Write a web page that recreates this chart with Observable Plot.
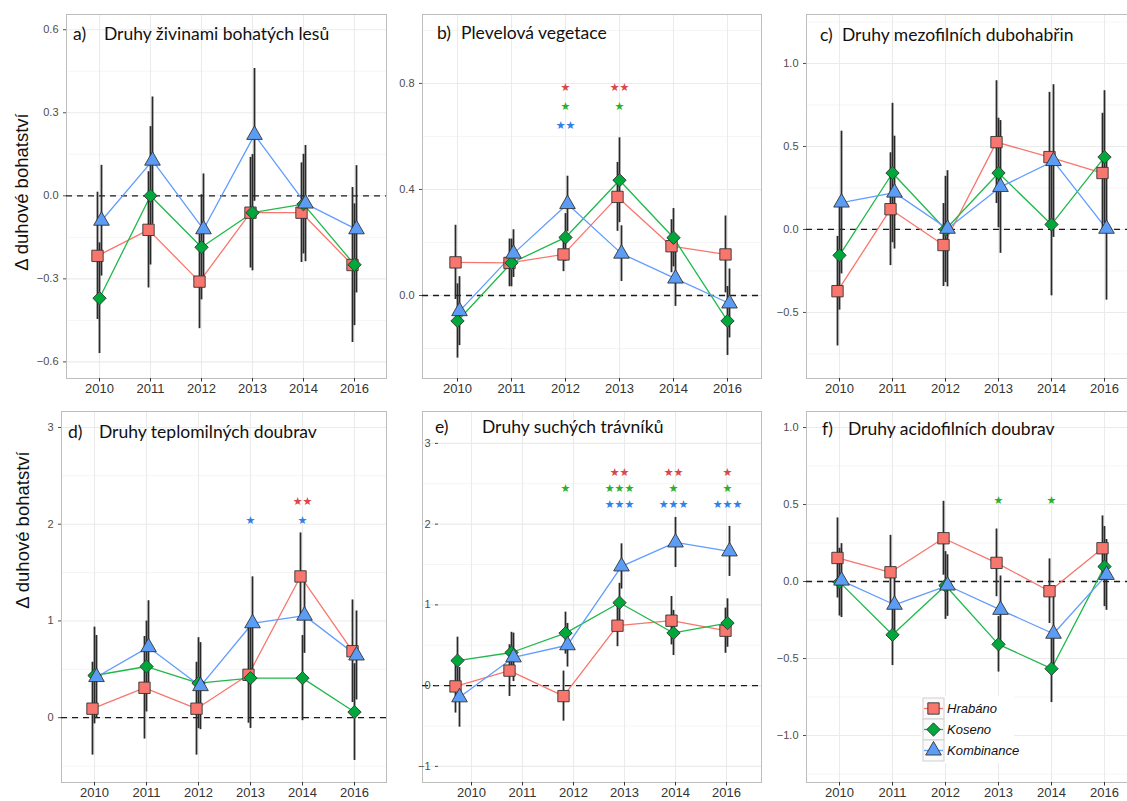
<!DOCTYPE html>
<html><head><meta charset="utf-8">
<script src="https://cdn.jsdelivr.net/npm/d3@7"></script>
<script src="https://cdn.jsdelivr.net/npm/@observablehq/plot@0.6"></script>
<style>
body{margin:0;background:#fff;}
#wrap{position:relative;width:1127px;height:801px;overflow:hidden;background:#fff;}
</style></head><body><div id="wrap"></div>
<script>
// ---------- data ----------
const years = ["2010","2011","2012","2013","2014","2016"];
const series = ["Hrabáno","Koseno","Kombinance"];
const panelLetters = ["a)","b)","c)","d)","e)","f)"];
const panelTitles = ["Druhy živinami bohatých lesů","Plevelová vegetace","Druhy mezofilních dubohabřin","Druhy teplomilných doubrav","Druhy suchých trávníků","Druhy acidofilních doubrav"];
const yTitle = "Δ duhové bohatství";

// means: rows = Hrabáno, Koseno, Kombinance; columns = years
const meanA = [[-0.217,-0.123,-0.31,-0.061,-0.061,-0.25],[-0.37,0.0,-0.186,-0.061,-0.03,-0.249],[-0.09,0.127,-0.121,0.22,-0.028,-0.121]];
const errA  = [[0.23,0.21,0.17,0.20,0.18,0.28],[0.20,0.25,0.19,0.21,0.18,0.22],[0.20,0.23,0.20,0.24,0.21,0.23]];
const meanB = [[0.125,0.123,0.155,0.372,0.186,0.155],[-0.096,0.123,0.219,0.435,0.218,-0.096],[-0.059,0.158,0.345,0.158,0.064,-0.03]];
const errB  = [[0.14,0.09,0.065,0.13,0.10,0.145],[0.14,0.09,0.09,0.16,0.11,0.13],[0.13,0.09,0.105,0.105,0.105,0.13]];
const meanC = [[-0.372,0.122,-0.094,0.526,0.436,0.34],[-0.156,0.34,0.0,0.34,0.03,0.436],[0.162,0.222,0.004,0.256,0.412,0.004]];
const errC  = [[0.33,0.34,0.25,0.37,0.39,0.36],[0.33,0.42,0.32,0.33,0.43,0.40],[0.43,0.34,0.35,0.40,0.46,0.43]];
const meanD = [[0.093,0.309,0.093,0.443,1.46,0.687],[0.436,0.529,0.357,0.409,0.409,0.058],[0.42,0.729,0.326,0.976,1.055,0.643]];
const errD  = [[0.48,0.53,0.48,0.50,0.45,0.53],[0.50,0.47,0.47,0.52,0.44,0.50],[0.43,0.48,0.45,0.48,0.39,0.46]];
const meanE = [[-0.01,0.186,-0.13,0.742,0.804,0.68],[0.31,0.41,0.65,1.027,0.652,0.775],[-0.145,0.35,0.5,1.476,1.773,1.662]];
const errE  = [[0.33,0.32,0.31,0.26,0.30,0.28],[0.29,0.25,0.26,0.24,0.28,0.30],[0.37,0.30,0.27,0.28,0.31,0.31]];
const meanF = [[0.153,0.06,0.281,0.121,-0.063,0.216],[-0.004,-0.346,-0.026,-0.408,-0.566,0.097],[0.006,-0.151,-0.026,-0.184,-0.339,0.043]];
const errF  = [[0.26,0.24,0.24,0.22,0.21,0.21],[0.22,0.20,0.22,0.18,0.22,0.26],[0.24,0.20,0.20,0.22,0.24,0.23]];

// significance marks per series per year
const starsB = [["","","*","**","",""],["","","*","*","",""],["","","**","","",""]];
const starsD = [["","","","","**",""],["","","","","",""],["","","","*","*",""]];
const starsE = [["","","","**","**","*"],["","","*","***","*","*"],["","","","***","***","***"]];
const starsF = [["","","","","",""],["","","","*","*",""],["","","","","",""]];

// y tick values
const ticksA = [-0.6,-0.3,0,0.3,0.6];
const ticksB = [0,0.4,0.8];
const ticksC = [-0.5,0,0.5,1];
const ticksD = [0,1,2,3];
const ticksE = [-1,0,1,2,3];
const ticksF = [-1,-0.5,0,0.5,1];

// ---------- styles ----------
const lineColors = ["#f8766d","#1fb84a","#619cff"];
const fillColors = ["#f8766d","#00a83b","#5b9cf5"];
const starColors = ["#d9464b","#2eae2e","#2f80e8"];
const symbols = ["square","diamond2","triangle"];
const symR = [6.4,6.0,5.8];
const dodge = [-2,0,2];

const panels = [
  {mean:meanA, err:errA, ticks:ticksA, fmt:".1f", L:66, T:14, R:386, B:378, yDomain:[-0.66,0.655]},
  {mean:meanB, err:errB, ticks:ticksB, fmt:".1f", L:422, T:14, R:761, B:378, yDomain:[-0.313,1.06], stars:starsB, starY:[0.784,0.714,0.643]},
  {mean:meanC, err:errC, ticks:ticksC, fmt:".1f", L:806, T:14, R:1136, B:378, yDomain:[-0.898,1.295]},
  {mean:meanD, err:errD, ticks:ticksD, fmt:"d", L:61, T:411, R:386, B:782, yDomain:[-0.67,3.165], stars:starsD, starY:[2.24,2.14,2.04]},
  {mean:meanE, err:errE, ticks:ticksE, fmt:"d", L:422, T:411, R:761, B:782, yDomain:[-1.2,3.395], stars:starsE, starY:[2.64,2.44,2.24], axisXRange:[47,306], axisYdx:16},
  {mean:meanF, err:errF, ticks:ticksF, fmt:".1f", L:806, T:411, R:1136, B:782, yDomain:[-1.305,1.104], stars:starsF, starY:[0.525,0.525,0.525]}
];
const titlePos = [
  {lx:73, tx:104, by:40},{lx:437, tx:461, by:39},{lx:820, tx:842, by:41},
  {lx:68, tx:99, by:438},{lx:435, tx:482, by:433},{lx:822, tx:848, by:435}
];

const wrap = document.getElementById("wrap");
const mL = 52, mR = 2, mT = 2, mB = 24;

function minorTicks(t, dom) {
  const step = t[1] - t[0];
  const out = [];
  for (let v = t[0] - step / 2; v <= dom[1]; v += step) if (v >= dom[0]) out.push(v);
  return out;
}

function buildPanel(p) {
  const W = p.R - p.L + mL + mR, H = p.B - p.T + mT + mB;
  const rows = [];
  p.mean.forEach((arr, si) => arr.forEach((v, yi) => rows.push({si, year: years[yi], v, lo: v - p.err[si][yi], hi: v + p.err[si][yi]})));
  const starRows = [];
  if (p.stars) p.stars.forEach((arr, si) => arr.forEach((s, yi) => { if (s) starRows.push({si, year: years[yi], y: p.starY[si], text: s.replace(/\*/g, "★")}); }));
  const yScale = {domain: p.yDomain};
  const gridMarks = [
    Plot.gridY(minorTicks(p.ticks, p.yDomain), {stroke: "#f3f3f3", strokeOpacity: 1, strokeWidth: 0.8}),
    Plot.gridY(p.ticks, {stroke: "#ebebeb", strokeOpacity: 1, strokeWidth: 1.1}),
    Plot.gridX(years, {stroke: "#ebebeb", strokeOpacity: 1, strokeWidth: 1.1}),
    Plot.frame({stroke: "#bdbdbd", strokeWidth: 1}),
    Plot.ruleY([0], {stroke: "#1a1a1a", strokeWidth: 1.3, strokeDasharray: "6,5"}),
    Plot.axisX(years, {tickSize: 3.5, tickPadding: 2, fontSize: 13, color: "#333", label: null}),
    Plot.axisY(p.ticks, {tickSize: 3, tickPadding: 5, tickFormat: d3.format(p.fmt), fontSize: 11, color: "#4d4d4d", label: null, dx: p.axisYdx || 0})
  ];
  const dataMarks = [];
  series.forEach((s, si) => dataMarks.push(Plot.line(rows.filter(r => r.si === si), {x: "year", y: "v", stroke: lineColors[si], strokeWidth: 1.3, dx: dodge[si]})));
  series.forEach((s, si) => dataMarks.push(Plot.ruleX(rows.filter(r => r.si === si), {x: "year", y1: "lo", y2: "hi", stroke: "#2a2a2a", strokeWidth: 1.8, dx: dodge[si]})));
  series.forEach((s, si) => dataMarks.push(Plot.dot(rows.filter(r => r.si === si), {x: "year", y: "v", symbol: symbols[si], r: symR[si], fill: fillColors[si], fillOpacity: 1, stroke: "#333", strokeWidth: 0.9, dx: dodge[si]})));
  series.forEach((s, si) => dataMarks.push(Plot.text(starRows.filter(r => r.si === si), {x: "year", y: "y", text: "text", fill: starColors[si], fontSize: 11, fontFamily: "DejaVu Sans"})));
  const common = {width: W, height: H, marginLeft: mL, marginRight: mR, marginTop: mT, marginBottom: mB,
    style: {fontFamily: "'Liberation Sans', Arial, sans-serif", background: "transparent", overflow: "visible"}};
  const place = svg => { svg.style.position = "absolute"; svg.style.left = (p.L - mL) + "px"; svg.style.top = (p.T - mT) + "px"; svg.style.maxWidth = "none"; wrap.appendChild(svg); };
  if (p.axisXRange) {
    place(Plot.plot({...common, x: {type: "point", domain: years, padding: 0, range: [mL + p.axisXRange[0], mL + p.axisXRange[1]]}, y: yScale, marks: gridMarks}));
    place(Plot.plot({...common, x: {type: "point", domain: years, padding: 0.6, axis: null}, y: {...yScale, axis: null}, marks: dataMarks}));
  } else {
    place(Plot.plot({...common, x: {type: "point", domain: years, padding: 0.6}, y: yScale, marks: [...gridMarks, ...dataMarks]}));
  }
}
panels.forEach(buildPanel);

// ---------- overlay: titles, y-axis titles, legend ----------
const ov = d3.create("svg").attr("width", 1127).attr("height", 801)
  .style("position", "absolute").style("left", "0px").style("top", "0px").style("pointer-events", "none");
panels.forEach((p, i) => {
  const t = titlePos[i];
  ov.append("text").attr("x", t.lx).attr("y", t.by).attr("font-family", "Lato, 'Open Sans', sans-serif").attr("font-size", 17.5).attr("fill", "#111").text(panelLetters[i]);
  ov.append("text").attr("x", t.tx).attr("y", t.by).attr("font-family", "Lato, 'Open Sans', sans-serif").attr("font-size", 17.5).attr("fill", "#111").text(panelTitles[i]);
});
[[28, 192], [29, 530]].forEach(([x, y]) => {
  ov.append("text").attr("transform", `translate(${x},${y}) rotate(-90)`).attr("text-anchor", "middle")
    .attr("font-family", "'Liberation Sans', Arial, sans-serif").attr("font-size", 18.5).attr("fill", "#111").text(yTitle);
});
// legend
const lg = {x: 923, y: 698, key: 21, textX: 947, w: 93};
const g = ov.append("g");
g.append("rect").attr("x", lg.x - 2).attr("y", lg.y - 2).attr("width", lg.w).attr("height", lg.key * 3 + 4).attr("fill", "#fff");
const d3sym = [d3.symbolSquare, d3.symbolDiamond2, d3.symbolTriangle];
series.forEach((s, si) => {
  const y0 = lg.y + si * lg.key, cx = lg.x + lg.key / 2, cy = y0 + lg.key / 2;
  g.append("rect").attr("x", lg.x).attr("y", y0).attr("width", lg.key).attr("height", lg.key).attr("fill", "#fafafa").attr("stroke", "#cfcfcf");
  g.append("line").attr("x1", lg.x + 1).attr("x2", lg.x + lg.key - 1).attr("y1", cy).attr("y2", cy).attr("stroke", lineColors[si]).attr("stroke-width", 1.3);
  g.append("path").attr("transform", `translate(${cx},${cy})`).attr("d", d3.symbol(d3sym[si], Math.PI * symR[si] * symR[si])())
    .attr("fill", fillColors[si]).attr("stroke", "#333").attr("stroke-width", 0.9);
  g.append("text").attr("x", lg.textX).attr("y", cy + 4.5).attr("font-family", "'Liberation Sans', Arial, sans-serif")
    .attr("font-style", "italic").attr("font-size", 13).attr("fill", "#111").text(s);
});
wrap.appendChild(ov.node());
</script></body></html>
